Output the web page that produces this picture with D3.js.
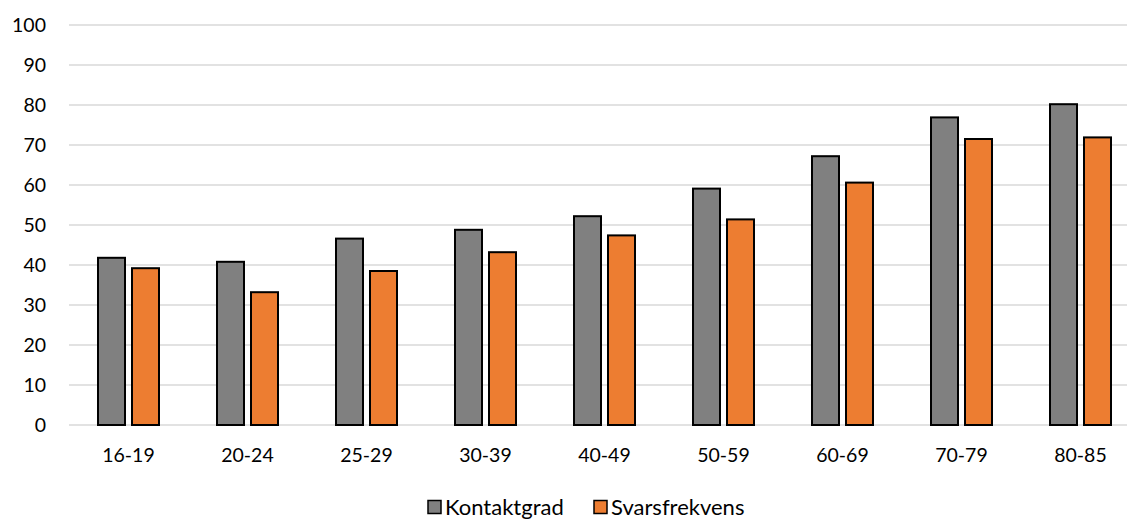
<!DOCTYPE html>
<html>
<head>
<meta charset="utf-8">
<script src="https://cdn.jsdelivr.net/npm/d3@7"></script>
<style>
  body { margin: 0; background: #fff; }
  svg { display: block; font-family: Lato, "Open Sans", sans-serif; }
</style>
</head>
<body>
<div id="chart"></div>
<script>
// données
const categories = ["16-19", "20-24", "25-29", "30-39", "40-49", "50-59", "60-69", "70-79", "80-85"];
const seriesNames = ["Kontaktgrad", "Svarsfrekvens"];
const kontaktgrad = [41.8, 40.8, 46.6, 48.8, 52.2, 59.1, 67.2, 76.9, 80.2];
const svarsfrekvens = [39.2, 33.2, 38.5, 43.2, 47.4, 51.4, 60.6, 71.5, 71.9];
const yTicks = [0, 10, 20, 30, 40, 50, 60, 70, 80, 90, 100];
const colors = ["#808080", "#ED7D31"];

const width = 1127;
const height = 520;
const marginLeft = 69;
const plotRight = 1140; // le graphique déborde un peu à droite
const yTop = 25, yBottom = 425;

const data = categories.map((c, i) => ({ cat: c, values: [kontaktgrad[i], svarsfrekvens[i]] }));

const svg = d3.select("#chart").append("svg")
    .attr("width", width)
    .attr("height", height);

const x0 = d3.scaleBand()
    .domain(categories)
    .range([marginLeft, plotRight])
    .padding(0);

const x1 = d3.scaleBand()
    .domain(seriesNames)
    .range([0, x0.bandwidth()])
    .paddingInner(0.206)
    .paddingOuter(0.853);

const y = d3.scaleLinear()
    .domain([0, 100])
    .range([yBottom, yTop]);

// grille horizontale
svg.append("g")
    .selectAll("line")
    .data(yTicks)
    .join("line")
    .attr("x1", marginLeft)
    .attr("x2", width)
    .attr("y1", d => y(d))
    .attr("y2", d => y(d))
    .attr("stroke", "#d9d9d9")
    .attr("stroke-width", 1.5);

// étiquettes de l'axe Y
svg.append("g")
    .selectAll("text")
    .data(yTicks)
    .join("text")
    .attr("x", 46)
    .attr("y", d => y(d))
    .attr("dy", "0.35em")
    .attr("text-anchor", "end")
    .attr("font-size", 19.5)
    .attr("fill", "#000")
    .text(d => d);

// barres
const groups = svg.append("g")
    .selectAll("g")
    .data(data)
    .join("g")
    .attr("transform", d => `translate(${x0(d.cat)},0)`);

groups.selectAll("rect")
    .data(d => d.values.map((v, i) => ({ key: seriesNames[i], value: v, i: i })))
    .join("rect")
    .attr("x", d => x1(d.key))
    .attr("y", d => y(d.value))
    .attr("width", x1.bandwidth())
    .attr("height", d => y(0) - y(d.value))
    .attr("fill", d => colors[d.i])
    .attr("stroke", "#000")
    .attr("stroke-width", 2);

// étiquettes de l'axe X
svg.append("g")
    .selectAll("text")
    .data(categories)
    .join("text")
    .attr("x", d => x0(d) + x0.bandwidth() / 2)
    .attr("y", 455)
    .attr("dy", "0.35em")
    .attr("text-anchor", "middle")
    .attr("font-size", 19.5)
    .attr("fill", "#000")
    .text(d => d);

// légende
const legendX = [428, 594];
const legend = svg.append("g")
    .selectAll("g")
    .data(seriesNames)
    .join("g")
    .attr("transform", (d, i) => `translate(${legendX[i]},507)`);

legend.append("rect")
    .attr("x", 0)
    .attr("y", -6.5)
    .attr("width", 13)
    .attr("height", 13)
    .attr("fill", (d, i) => colors[i])
    .attr("stroke", "#000")
    .attr("stroke-width", 1.5);

legend.append("text")
    .attr("x", 17)
    .attr("y", 0)
    .attr("dy", "0.35em")
    .attr("font-size", 22)
    .attr("fill", "#000")
    .text(d => d);
</script>
</body>
</html>
